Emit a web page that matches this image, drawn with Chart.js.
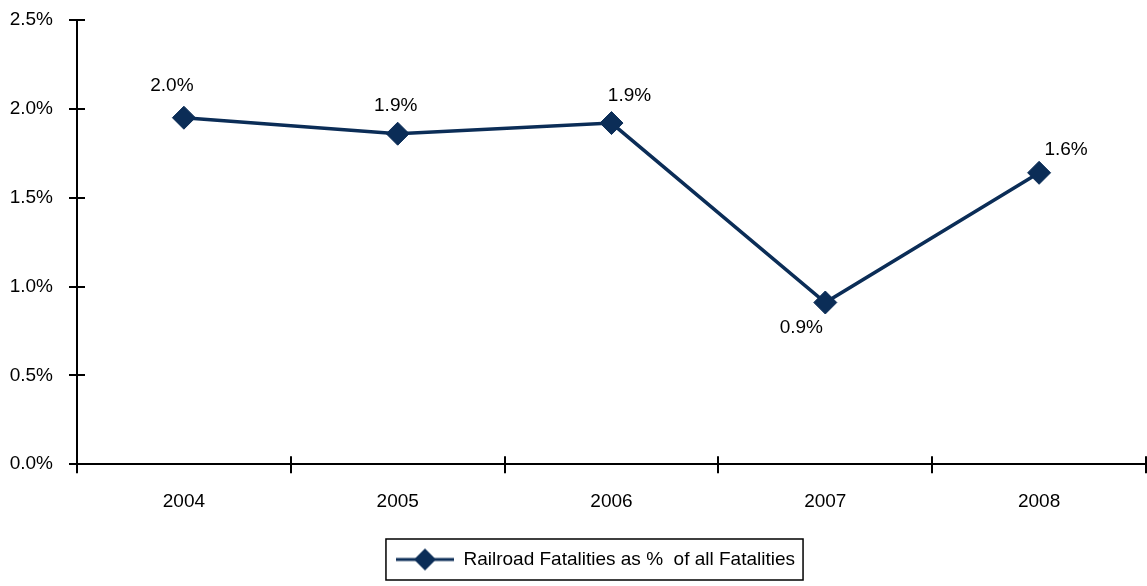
<!DOCTYPE html>
<html>
<head>
<meta charset="utf-8">
<script src="https://cdn.jsdelivr.net/npm/chart.js@4"></script>
<style>
  html, body { margin: 0; padding: 0; background: #fff; overflow: hidden; }
  #wrap { width: 1147px; height: 586px; }
</style>
</head>
<body>
<div id="wrap"><canvas id="chart"></canvas></div>
<script>
// chart data
const years = ['2004', '2005', '2006', '2007', '2008'];
const railShare = [1.95, 1.86, 1.92, 0.91, 1.64];
const railLabels = ['2.0%', '1.9%', '1.9%', '0.9%', '1.6%'];
const seriesName = 'Railroad Fatalities as %  of all Fatalities';

const navy = '#0b2d57';
const fontFamily = "'Liberation Sans', Arial, sans-serif";
const fontSize = 19;

// legend symbol: short line with a diamond in the middle
function legendSymbol() {
    const c = document.createElement('canvas');
    c.width = 58;
    c.height = 24;
    const g = c.getContext('2d');
    g.strokeStyle = navy;
    g.lineWidth = 3;
    g.beginPath();
    g.moveTo(0, 12);
    g.lineTo(58, 12);
    g.stroke();
    g.fillStyle = navy;
    g.beginPath();
    g.moveTo(29, 1);
    g.lineTo(40, 12);
    g.lineTo(29, 23);
    g.lineTo(18, 12);
    g.closePath();
    g.fill();
    return c;
}

// value labels next to each point
const pointLabels = {
    id: 'pointLabels',
    afterDatasetsDraw(chart, args, opts) {
        const ctx = chart.ctx;
        const meta = chart.getDatasetMeta(0);
        ctx.save();
        ctx.font = fontSize + 'px ' + fontFamily;
        ctx.fillStyle = '#000';
        ctx.textAlign = 'center';
        ctx.textBaseline = 'middle';
        meta.data.forEach((pt, i) => {
            const off = opts.offsets[i];
            ctx.fillText(railLabels[i], pt.x + off[0], pt.y + off[1]);
        });
        ctx.restore();
    }
};

// ticks crossing the axes + box round the legend
const axisExtras = {
    id: 'axisExtras',
    afterUpdate(chart) {
        // legend sits a bit right of centre in the original
        const lg = chart.legend;
        const d = 22;
        lg.left += d;
        lg.right += d;
        lg.legendHitBoxes.forEach(b => { b.left += d; });
    },
    afterDraw(chart) {
        const ctx = chart.ctx;
        const x = chart.scales.x;
        const y = chart.scales.y;
        ctx.save();
        ctx.strokeStyle = '#000';
        ctx.lineWidth = 2;
        ctx.beginPath();
        y.ticks.forEach((t, i) => {
            const py = Math.round(y.getPixelForTick(i));
            ctx.moveTo(x.left, py);
            ctx.lineTo(x.left + 8, py);
        });
        for (let i = 0; i <= years.length; i++) {
            const px = Math.round(x.left + (x.right - x.left) * i / years.length);
            ctx.moveTo(px, y.bottom);
            ctx.lineTo(px, y.bottom - 8);
        }
        ctx.stroke();

        const box = chart.legend.legendHitBoxes[0];
        if (box) {
            ctx.lineWidth = 1.5;
            ctx.strokeRect(box.left - 10, box.top - 11, box.width + 18, box.height + 22);
        }
        ctx.restore();
    }
};

new Chart(document.getElementById('chart'), {
    type: 'line',
    data: {
        labels: years,
        datasets: [{
            label: seriesName,
            data: railShare,
            borderColor: navy,
            backgroundColor: navy,
            borderWidth: 3.5,
            pointStyle: 'rectRot',
            pointRadius: 11.5,
            pointHoverRadius: 11.5,
            pointBorderWidth: 1,
            tension: 0
        }]
    },
    options: {
        responsive: true,
        maintainAspectRatio: false,
        animation: false,
        layout: { autoPadding: false, padding: { top: 0, right: 0, bottom: 7, left: 0 } },
        scales: {
            x: {
                offset: true,
                afterFit(scale) { scale.paddingLeft = 0; scale.paddingRight = 1; },
                grid: {
                    offset: true,
                    drawOnChartArea: false,
                    color: '#000',
                    lineWidth: 2,
                    tickLength: 9
                },
                border: { color: '#000', width: 2 },
                ticks: { color: '#000', padding: 17, font: { family: fontFamily, size: fontSize } }
            },
            y: {
                min: 0,
                max: 2.5,
                afterFit(scale) { scale.width = 77; scale.paddingTop = 20; },
                grid: {
                    drawOnChartArea: false,
                    color: '#000',
                    lineWidth: 2,
                    tickLength: 8
                },
                border: { color: '#000', width: 2 },
                ticks: {
                    stepSize: 0.5,
                    color: '#000',
                    padding: 16,
                    font: { family: fontFamily, size: fontSize },
                    callback: v => v.toFixed(1) + '%'
                }
            }
        },
        plugins: {
            legend: {
                position: 'bottom',
                labels: {
                    color: '#000',
                    font: { family: fontFamily, size: fontSize },
                    usePointStyle: true,
                    pointStyleWidth: 58,
                    padding: 20,
                    generateLabels: chart => [{
                        text: seriesName,
                        pointStyle: legendSymbol(),
                        fillStyle: navy,
                        strokeStyle: navy,
                        lineWidth: 0,
                        datasetIndex: 0
                    }]
                }
            },
            tooltip: { enabled: false },
            pointLabels: {
                offsets: [[-12, -32], [-2, -28], [18, -27], [-24, 25], [27, -23]]
            }
        }
    },
    plugins: [pointLabels, axisExtras]
});
</script>
</body>
</html>
